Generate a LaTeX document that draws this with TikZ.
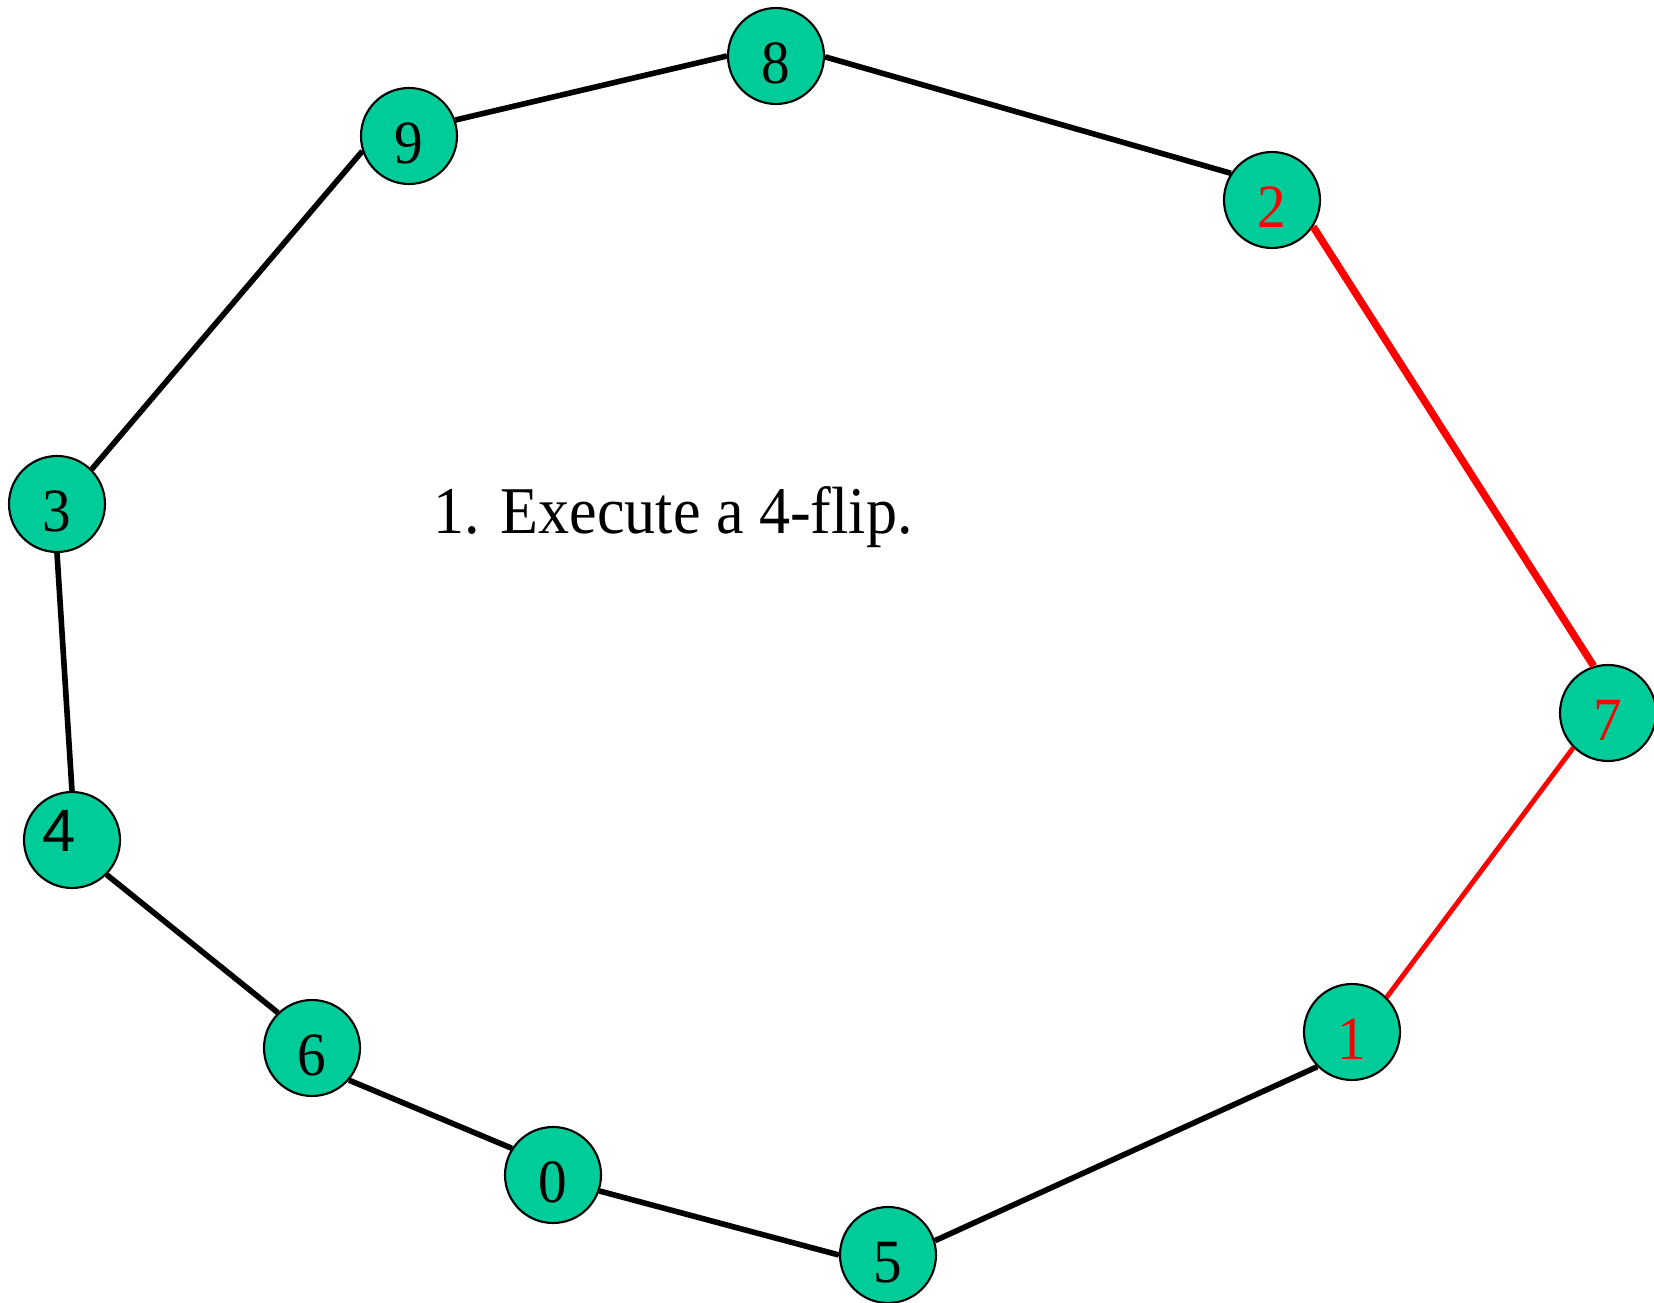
\documentclass[tikz,border=0pt]{standalone}
\usepackage{fontspec}
\setmainfont{Liberation Serif}[FakeStretch=0.93]
\setsansfont{Liberation Sans}
\usepackage{xcolor}
\definecolor{vgreen}{RGB}{0,204,153}
\tikzset{
    vertex/.style={circle,draw=black,line width=0.6pt,fill=vgreen,minimum size=0.96cm,inner sep=0pt,
        text height=0.55cm,text depth=0pt,font=\fontsize{17.5}{17.5}\selectfont},
    tour/.style={line width=1.6pt},
    flip/.style={line width=2.1pt,red},
    flipthin/.style={line width=1.4pt,red}
}

\begin{document}
\begin{tikzpicture}[x=1cm,y=1cm]
        \useasboundingbox (0,0) rectangle (16.54,-13.03);
        \foreach \n/\x/\y/\c in {8/7.76/-0.56/black,9/4.09/-1.36/black,2/12.72/-2.00/red,3/0.57/-5.04/black,
            7/16.08/-7.13/red,1/13.52/-10.32/red,6/3.12/-10.48/black,0/5.53/-11.75/black,5/8.88/-12.55/black}{
            \node[vertex,text=\c] (v\n) at (\x,\y) {\n};
        }
        \node[vertex] (v4) at (0.72,-8.40) {\raisebox{0.16cm}{\makebox[0pt]{\hspace{-0.26cm}\sffamily\fontsize{17}{17}\selectfont 4}}};
        \draw[tour] (v9.19) -- (v8.180);
        \draw[tour] (v8.-1) -- (v2.147);
        \draw[flip] (v2.-33) -- (v7.107);
        \draw[flipthin] (v7.225) -- (v1.45);
        \draw[tour] (v1.225) -- (v5.17);
        \draw[tour] (v5.180) -- (v0.-19);
        \draw[tour] (v0.147) -- (v6.-41);
        \draw[tour] (v6.134) -- (v4.-45);
        \draw[tour] (v4.90) -- (v3.-90);
        \draw[tour] (v3.45) -- (v9.198);
        \node[font=\fontsize{19}{19}\selectfont] (step1) at (6.73,-5.17) {1. Execute a 4-flip.};
    \end{tikzpicture}
\end{document}
